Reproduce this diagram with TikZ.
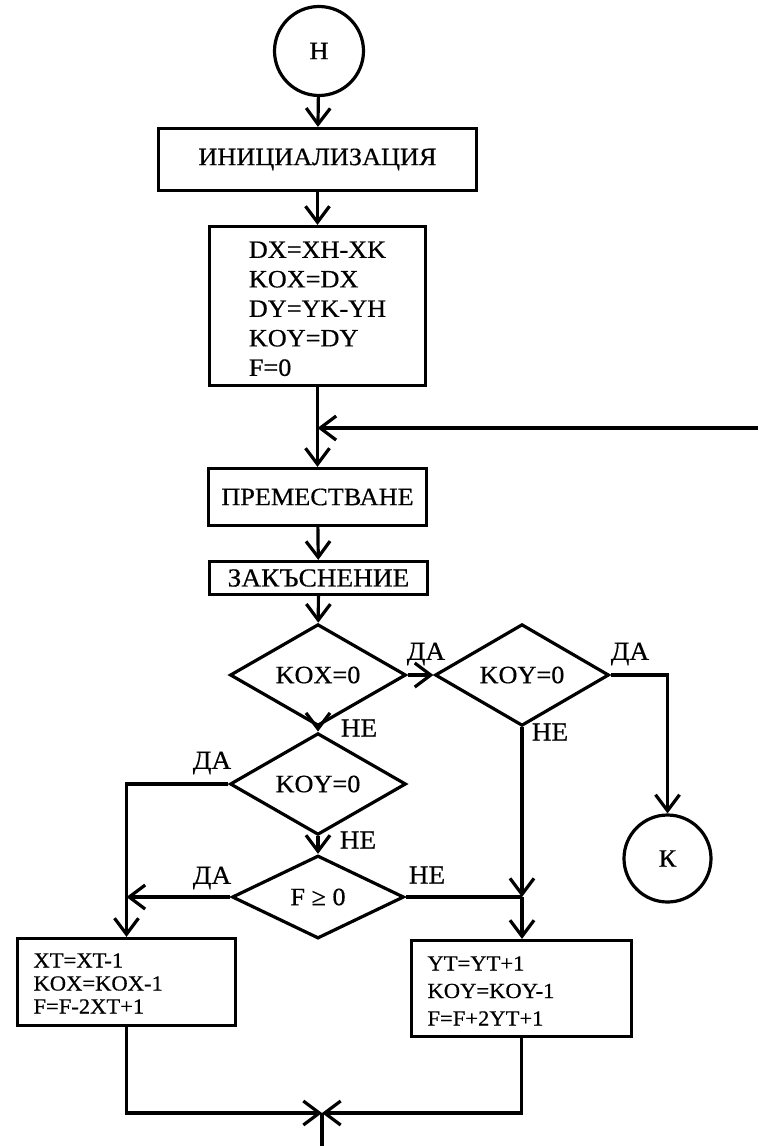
\documentclass[tikz,border=0pt]{standalone}
\usepackage{fontspec}
\setmainfont{Liberation Serif}[FakeStretch=1.05,FakeBold=0.5]
\usetikzlibrary{arrows.meta,shapes.geometric,calc}
\begin{document}
\begin{tikzpicture}[x=1pt,y=-1pt, line width=3.2pt,
  >={Straight Barb[length=16pt,width=24pt]},
  every node/.style={font=\fontsize{25}{29}\selectfont},
  blk/.style={draw, rectangle, inner sep=0pt},
  dec/.style={draw, diamond, inner sep=0pt},
  term/.style={draw, circle, inner sep=0pt},
  lbl/.style={inner sep=0pt, font=\fontsize{26}{29}\selectfont}]
\useasboundingbox (0,0) rectangle (758,1146);
% nodes
\node[term, minimum size=89pt] (H) at (319,51) {Н};
\node[blk, minimum width=318pt, minimum height=62pt] (init) at (317.5,159.5) {ИНИЦИАЛИЗАЦИЯ};
\node[blk, minimum width=216pt, minimum height=159pt, align=left,
      font=\fontsize{25}{29.5}\selectfont] (dx) at (317.5,306)
      {\rule{0pt}{22pt}DX=XH-XK\\KOX=DX\\DY=YK-YH\\KOY=DY\\F=0};
\node[blk, minimum width=218pt, minimum height=57pt] (prem) at (317.5,497) {ПРЕМЕСТВАНЕ};
\node[blk, minimum width=218pt, minimum height=33pt, font=\fontsize{26}{29}\selectfont] (zak) at (318.5,578) {ЗАКЪСНЕНИЕ};
\node[dec, minimum width=176pt, minimum height=88pt] (kox) at (318,675) {KOX=0};
\node[dec, minimum width=174pt, minimum height=90pt] (koyr) at (522,675) {KOY=0};
\node[dec, minimum width=176pt, minimum height=82pt] (koym) at (318,784) {KOY=0};
\node[dec, minimum width=172pt, minimum height=83pt] (f) at (318,897) {F ≥ 0};
\node[term, minimum size=87pt] (K) at (667.5,858.5) {К};
\node[blk, minimum width=218pt, minimum height=87pt, text width=186pt, inner xsep=16pt,
      align=left, font=\fontsize{21.5}{23}\selectfont] (lb) at (126.5,982)
      {\rule{0pt}{17pt}XT=XT-1\\KOX=KOX-1\\F=F-2XT+1};
\node[blk, minimum width=220pt, minimum height=96pt, text width=188pt, inner xsep=16pt,
      align=left, font=\fontsize{21.5}{27.5}\selectfont] (rb) at (521.5,988.5)
      {\rule{0pt}{19pt}YT=YT+1\\KOY=KOY-1\\F=F+2YT+1};
% labels
\node[lbl] (l1) at (426,654) {ДА};
\node[lbl] (l2) at (630,654) {ДА};
\node[lbl] (l3) at (359,728) {НЕ};
\node[lbl] (l4) at (550,732) {НЕ};
\node[lbl] (l5) at (212,763) {ДА};
\node[lbl] (l6) at (358,840) {НЕ};
\node[lbl] (l7) at (212,878) {ДА};
\node[lbl] (l8) at (427,875) {НЕ};
% coordinates
\coordinate (fbin) at (758,428);
\coordinate (rj) at (koyr.south |- f.east);
\coordinate (lc) at (lb.north |- koym.west);
\coordinate (lj) at (lb.north |- f.west);
\coordinate (bj) at (322,1113);
\coordinate (bend) at (322,1146);
% connectors
\draw[->] (H) -- (init);
\draw[->] (init) -- (dx);
\draw[->] (dx) -- (prem);
\draw[->] (fbin) -- (fbin -| dx.south);
\draw[->] (prem) -- (zak);
\draw[->] (zak) -- (kox);
\draw[->] (kox.east) -- (koyr.west);
\draw[->] (kox.south) -- (koym.north);
\draw[->] (koyr.east) -| (K.north);
\draw[->] (koyr.south) -- (rj);
\draw (f.east) -- (rj);
\draw[->] (rj) -- (rj |- rb.north);
\draw[->] (koym.west) -- (lc) -- (lb.north);
\draw[->] (f.west) -- (lj);
\draw[->] (koym.south) -- (f.north);
\draw[->] (lb.south) |- (bj);
\draw[->] (rb.south) |- (bj);
\draw (bj) -- (bend);
\end{tikzpicture}
\end{document}
